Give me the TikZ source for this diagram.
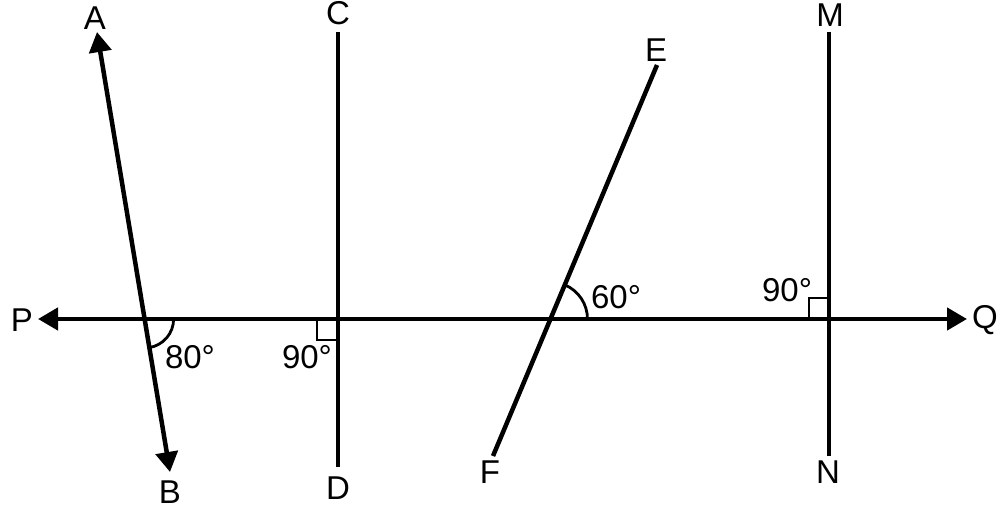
\documentclass[tikz,border=0pt]{standalone}
\usepackage{fontspec}
\setmainfont{Liberation Sans}
\usetikzlibrary{calc,positioning,arrows.meta}

\begin{document}
\begin{tikzpicture}[
            x=1pt,y=1pt,
            seg/.style={line width=4.5pt},
            tip/.style={seg,{Triangle[length=20pt,width=22pt]}-{Triangle[length=20pt,width=22pt]}},
            anglemark/.style={line width=2.8pt},
            lbl/.style={inner sep=0pt,font=\fontsize{33}{38}\selectfont}
        ]
            \useasboundingbox (0,0) rectangle (1001,511);
            % end points of the lines
            \coordinate (A) at (97,479);
            \coordinate (B) at (170,39);
            \coordinate (P) at (38,192);
            \coordinate (Q) at (967,192);
            \coordinate (C) at (338,479);
            \coordinate (D) at (338,44);
            \coordinate (E) at (657,446);
            \coordinate (F) at (493,55);
            \coordinate (M) at (829,479);
            \coordinate (N) at (829,55);
            % crossings with PQ
            \coordinate (X1) at (intersection of A--B and P--Q);
            \coordinate (X2) at (intersection of E--F and P--Q);
            \coordinate (X3) at (intersection of C--D and P--Q);
            \coordinate (X4) at (intersection of M--N and P--Q);
            % lines
            \draw[tip] (P) -- (Q);
            \draw[tip] (A) -- (B);
            \draw[seg] (C) -- (D);
            \draw[seg] (E) -- (F);
            \draw[seg] (M) -- (N);
            % angle marks
            \draw[anglemark] ($(X1)+(29,0)$) arc[start angle=0,end angle=-80.6,radius=29];
            \draw[anglemark] ($(X2)+(37,0)$) arc[start angle=0,end angle=67,radius=37];
            \draw[anglemark] (X3) ++(-21,0) -- ++(0,-21) -- ++(21,0);
            \draw[anglemark] (X4) ++(-20,0) -- ++(0,21) -- ++(20,0);
            % labels
            \node (lA) [lbl] at (95,493) {A};
            \node (lB) [lbl] at (170,19) {B};
            \node (lC) [lbl] at (338,498) {C};
            \node (lD) [lbl] at (338,23) {D};
            \node (lE) [lbl] at (656,461) {E};
            \node (lF) [lbl] at (490,39) {F};
            \node (lM) [lbl] at (830,496) {M};
            \node (lN) [lbl] at (828,39) {N};
            \node (lP) [lbl] at (22,191) {P};
            \node (lQ) [lbl] at (985,191) {Q};
            \node (a1) [lbl] at (190,154) {80°};
            \node (a2) [lbl] at (307,154) {90°};
            \node (a3) [lbl] at (616,214) {60°};
            \node (a4) [lbl] at (787,221) {90°};
        \end{tikzpicture}
\end{document}
